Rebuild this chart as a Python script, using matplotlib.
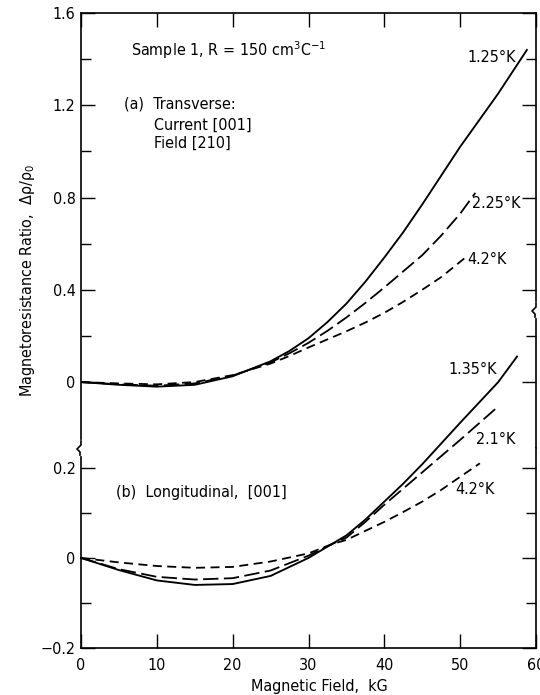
import matplotlib
matplotlib.use("Agg")
import matplotlib.pyplot as plt
from matplotlib.lines import Line2D

# (a) transverse, upper scale
field_a_125 = [0, 5, 10, 15, 20, 25, 27.5, 30, 32.5, 35, 37.5, 40, 42.5, 45, 47.5, 50, 52.5, 55, 58.8]
mr_a_125 = [0, -0.012, -0.02, -0.012, 0.025, 0.09, 0.135, 0.19, 0.26, 0.34, 0.435, 0.54, 0.65, 0.77, 0.895, 1.02, 1.135, 1.25, 1.44]
field_a_225 = [0, 5, 10, 15, 20, 25, 27.5, 30, 32.5, 35, 37.5, 40, 42.5, 45, 47.5, 50, 52]
mr_a_225 = [0, -0.01, -0.016, -0.006, 0.028, 0.085, 0.125, 0.17, 0.222, 0.28, 0.343, 0.41, 0.48, 0.55, 0.635, 0.73, 0.82]
field_a_42 = [0, 5, 10, 15, 20, 25, 27.5, 30, 32.5, 35, 37.5, 40, 42.5, 45, 47.5, 50.7]
mr_a_42 = [0, -0.006, -0.01, 0.0, 0.03, 0.08, 0.113, 0.15, 0.185, 0.22, 0.258, 0.30, 0.348, 0.40, 0.455, 0.54]

# (b) longitudinal, lower scale
field_b_135 = [0, 5, 10, 15, 20, 25, 30, 33, 35, 37.5, 40, 42.5, 45, 47.5, 50, 52.5, 55, 57.5]
mr_b_135 = [0, -0.027, -0.05, -0.06, -0.058, -0.04, 0.0, 0.03, 0.05, 0.085, 0.125, 0.165, 0.208, 0.254, 0.30, 0.345, 0.39, 0.447]
field_b_21 = [0, 5, 10, 15, 20, 25, 30, 33, 35, 37.5, 40, 42.5, 45, 47.5, 50, 52.5, 55]
mr_b_21 = [0, -0.025, -0.042, -0.048, -0.045, -0.028, 0.005, 0.03, 0.045, 0.08, 0.118, 0.154, 0.19, 0.226, 0.262, 0.299, 0.336]
field_b_42 = [0, 5, 10, 15, 20, 25, 30, 33, 35, 37.5, 40, 42.5, 45, 47.5, 50, 52.6]
mr_b_42 = [0, -0.01, -0.018, -0.022, -0.02, -0.008, 0.01, 0.03, 0.04, 0.06, 0.08, 0.102, 0.125, 0.151, 0.18, 0.21]

x_ticks = [0, 10, 20, 30, 40, 50, 60]
y_ticks_a = [0, 0.4, 0.8, 1.2, 1.6]
y_minor_a = [0.2, 0.6, 1.0, 1.4]
y_ticks_b = [-0.2, 0, 0.2]
y_minor_b = [-0.1, 0.1]

plt.rcParams["font.family"] = ["DejaVu Sans"]
plt.rcParams["font.stretch"] = "condensed"
plt.rcParams["mathtext.fontset"] = "custom"
plt.rcParams["mathtext.rm"] = "DejaVu Sans:stretch=condensed"
plt.rcParams["mathtext.it"] = "DejaVu Sans:stretch=condensed"
plt.rcParams["font.size"] = 11.5

W, H = 540, 695
fig = plt.figure(figsize=(W / 100, H / 100), dpi=100)

def fx(px):
    return px / W

def fy(py):
    return 1 - py / H

left, right = 81, 536
top, brk, bottom = 13, 448, 648
ax_a = fig.add_axes([fx(left), fy(brk), fx(right - left), fy(top) - fy(brk)])
ax_b = fig.add_axes([fx(left), fy(bottom), fx(right - left), fy(brk) - fy(bottom)])

solid = dict(color="black", lw=1.35)
long_dash = dict(color="black", lw=1.3, dashes=(8.5, 3))
short_dash = dict(color="black", lw=1.3, dashes=(5, 3))

ax_a.plot(field_a_125, mr_a_125, **solid)
ax_a.plot(field_a_225, mr_a_225, **long_dash)
ax_a.plot(field_a_42, mr_a_42, **short_dash)
# lower curves run up past the break, as in the original
ax_b.plot(field_b_135, mr_b_135, clip_on=False, **solid)
ax_b.plot(field_b_21, mr_b_21, clip_on=False, **long_dash)
ax_b.plot(field_b_42, mr_b_42, clip_on=False, **short_dash)

ax_a.set_xlim(0, 60)
ax_b.set_xlim(0, 60)
ax_a.set_ylim(-0.286, 1.6)
ax_b.set_ylim(-0.2, 0.244)

for ax in (ax_a, ax_b):
    for s in ax.spines.values():
        s.set_linewidth(1.2)
    ax.set_xticks(x_ticks)
    ax.tick_params(which="both", direction="in", top=True, right=True, width=1.0)
    ax.tick_params(which="major", length=10)
    ax.tick_params(which="minor", length=7)
    ax.tick_params(axis="x", pad=7)
    ax.tick_params(axis="y", pad=4)
ax_a.spines["bottom"].set_visible(False)
ax_b.spines["top"].set_visible(False)
ax_a.tick_params(bottom=False, labelbottom=False)
ax_b.tick_params(top=False)

ax_a.set_yticks(y_ticks_a)
ax_a.set_yticklabels([f"{v:.1f}" if v else "0" for v in y_ticks_a])
ax_a.set_yticks(y_minor_a, minor=True)
ax_b.set_yticks(y_ticks_b)
ax_b.set_yticklabels(["\u22120.2", "0", "0.2"])
ax_b.set_yticks(y_minor_b, minor=True)
ax_b.set_xticklabels([str(v) for v in x_ticks])

# axis labels
fig.text(fx(319), fy(686), "Magnetic Field,  kG", ha="center", va="center")
fig.text(fx(28), fy(280), "Magnetoresistance Ratio,  \u0394\u03c1/\u03c1$_0$",
         rotation=90, ha="center", va="center")

# panel annotations
ax_a.text(6.6, 1.44, "Sample 1, R = 150 cm$^3$C$^{-1}$", va="center")
ax_a.text(5.7, 1.205, "(a)  Transverse:", va="center")
ax_a.text(9.6, 1.114, "Current [001]", va="center")
ax_a.text(9.6, 1.036, "Field [210]", va="center")
ax_b.text(4.6, 0.145, "(b)  Longitudinal,  [001]", va="center")

ax_a.text(50.9, 1.405, "1.25\u00b0K", va="center")
ax_a.text(51.6, 0.772, "2.25\u00b0K", va="center")
ax_a.text(50.9, 0.533, "4.2\u00b0K", va="center")
ax_b.text(48.4, 0.418, "1.35\u00b0K", va="center")
ax_b.text(52.1, 0.262, "2.1\u00b0K", va="center")
ax_b.text(49.3, 0.151, "4.2\u00b0K", va="center")

# axis break marks
def squiggle(x, y):
    fig.add_artist(Line2D([fx(x), fx(x)], [fy(y - 6), fy(y + 6)], color="white", lw=3))
    fig.add_artist(Line2D([fx(x), fx(x), fx(x - 4), fx(x - 1), fx(x - 1)],
                          [fy(y - 7), fy(y - 3), fy(y + 1), fy(y + 4), fy(y + 7)],
                          color="black", lw=1.2))

squiggle(left, brk)
squiggle(right, 310)

fig.savefig("out.png", dpi=100)
